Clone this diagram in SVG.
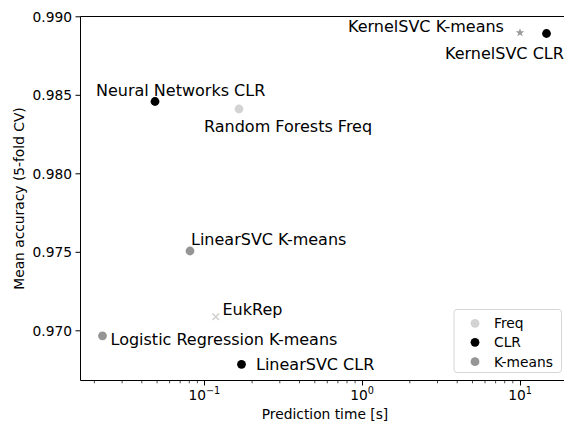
<svg xmlns="http://www.w3.org/2000/svg" width="564" height="423" viewBox="0 0 564 423">
<style>
text{font-family:"DejaVu Sans","Liberation Sans",sans-serif;fill:#000}
.tick{font-size:13.8px}
.ann{font-size:16px}
.axl{font-size:13.8px}
.spine{stroke:#000;stroke-width:1;fill:none}
.maj{stroke:#000;stroke-width:1}
.min{stroke:#000;stroke-width:0.7}
.freq{fill:#d3d3d3}
.clr{fill:#000}
.km{fill:#959595}
</style>
<rect width="564" height="423" fill="#fff"/>
<g id="axes">
<path class="spine" d="M80.5,16.5H570M80.5,16.5V380.5H570"/>
<g id="yticks">
<path class="maj" d="M75.5,16.8H80.5M75.5,95.3H80.5M75.5,173.8H80.5M75.5,252.3H80.5M75.5,330.8H80.5"/>
<text class="tick" x="72" y="21.8" text-anchor="end">0.990</text>
<text class="tick" x="72" y="100.3" text-anchor="end">0.985</text>
<text class="tick" x="72" y="178.8" text-anchor="end">0.980</text>
<text class="tick" x="72" y="257.3" text-anchor="end">0.975</text>
<text class="tick" x="72" y="335.8" text-anchor="end">0.970</text>
</g>
<g id="xticks">
<path class="maj" d="M204.5,380.5V385.5M362.5,380.5V385.5M520.5,380.5V385.5"/>
<path class="min" d="M94.4,380.5V383.3M122.1,380.5V383.3M141.8,380.5V383.3M157.1,380.5V383.3M169.6,380.5V383.3M180.2,380.5V383.3M189.3,380.5V383.3M197.4,380.5V383.3M252.1,380.5V383.3M279.8,380.5V383.3M299.5,380.5V383.3M314.8,380.5V383.3M327.3,380.5V383.3M337.9,380.5V383.3M347,380.5V383.3M355.1,380.5V383.3M409.8,380.5V383.3M437.5,380.5V383.3M457.2,380.5V383.3M472.5,380.5V383.3M485,380.5V383.3M495.6,380.5V383.3M504.7,380.5V383.3M512.8,380.5V383.3"/>
<text class="tick" x="204.3" y="400" text-anchor="middle">10<tspan font-size="9.7" dy="-6">−1</tspan></text>
<text class="tick" x="362" y="400" text-anchor="middle">10<tspan font-size="9.7" dy="-6">0</tspan></text>
<text class="tick" x="520" y="400" text-anchor="middle">10<tspan font-size="9.7" dy="-6">1</tspan></text>
</g>
<text class="axl" x="325" y="419" text-anchor="middle">Prediction time [s]</text>
<text class="axl" transform="translate(23.5,198.5) rotate(-90)" text-anchor="middle">Mean accuracy (5-fold CV)</text>
</g>
<g id="nn-clr">
<circle class="clr" cx="155" cy="101.5" r="4.4"/>
<text class="ann" x="96" y="96">Neural Networks CLR</text>
</g>
<g id="rf-freq">
<circle class="freq" cx="239" cy="109" r="4.4"/>
<text class="ann" x="204" y="131.5">Random Forests Freq</text>
</g>
<g id="linsvc-km">
<circle class="km" cx="190" cy="251" r="4.4"/>
<text class="ann" x="191" y="245">LinearSVC K-means</text>
</g>
<g id="eukrep">
<path d="M212.5,313.5L219,320M219,313.5L212.5,320" stroke="#d0d0d0" stroke-width="1.6"/>
<text class="ann" x="222.5" y="315">EukRep</text>
</g>
<g id="logreg-km">
<circle class="km" cx="102.5" cy="335.8" r="4.4"/>
<text class="ann" x="110.5" y="345">Logistic Regression K-means</text>
</g>
<g id="linsvc-clr">
<circle class="clr" cx="241.5" cy="364.3" r="4.4"/>
<text class="ann" x="256" y="370">LinearSVC CLR</text>
</g>
<g id="ksvc-km">
<path fill="#999" d="M520,28.2L521.1,31.3L524.3,31.3L521.7,33.2L522.7,36.3L520,34.4L517.3,36.3L518.3,33.2L515.7,31.3L518.9,31.3Z"/>
<text class="ann" x="348" y="31.5">KernelSVC K-means</text>
</g>
<g id="ksvc-clr">
<circle class="clr" cx="546.5" cy="33.5" r="4.4"/>
<text class="ann" x="445" y="58.5">KernelSVC CLR</text>
</g>
<g id="legend">
<rect x="454" y="309.5" width="107.5" height="63" rx="3" fill="#fff" fill-opacity="0.8" stroke="#d6d6d6" stroke-width="1"/>
<circle class="freq" cx="475" cy="323.3" r="4.4"/>
<circle class="clr" cx="475" cy="342.3" r="4.4"/>
<circle class="km" cx="475" cy="361.7" r="4.4"/>
<text class="tick" x="494" y="328.3">Freq</text>
<text class="tick" x="494" y="347.3">CLR</text>
<text class="tick" x="494" y="366.7">K-means</text>
</g>
</svg>
